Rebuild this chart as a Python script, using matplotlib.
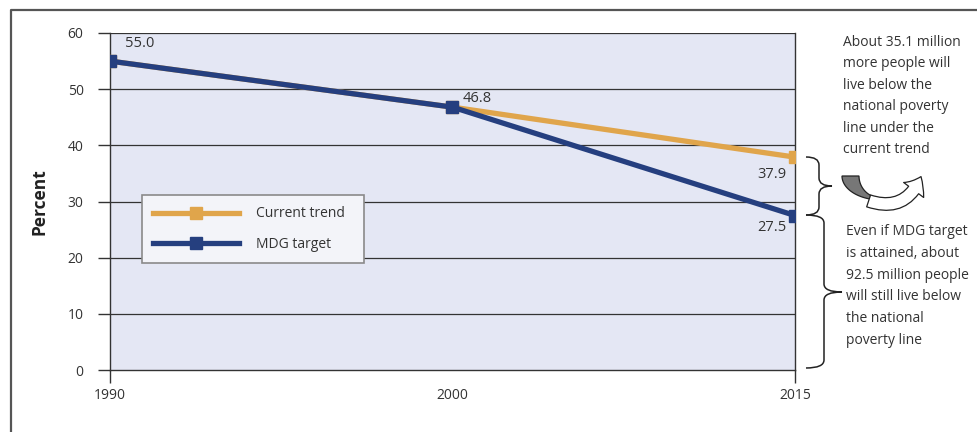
import numpy as np
import matplotlib.pyplot as plt
from matplotlib.path import Path
from matplotlib.patches import PathPatch, Polygon, FancyArrowPatch

plt.rcParams['font.family'] = ['Open Sans', 'DejaVu Sans']

# 数据
years = ['1990', '2000', '2015']
current_trend = [55.0, 46.8, 37.9]
mdg_target = [55.0, 46.8, 27.5]
yticks = [0, 10, 20, 30, 40, 50, 60]
note_top = 'About 35.1 million\nmore people will\nlive below the\nnational poverty\nline under the\ncurrent trend'
note_bottom = 'Even if MDG target\nis attained, about\n92.5 million people\nwill still live below\nthe national\npoverty line'

orange = '#E0A54B'
navy = '#253F7F'
dark = '#333333'

fig = plt.figure(figsize=(9.77, 4.32), dpi=100)
ax = fig.add_axes([110 / 977, 62 / 432, 685 / 977, 337 / 432])
ax.set_facecolor('#E4E7F4')

x = np.arange(len(years))
ax.plot(x, current_trend, color=orange, lw=3.8, marker='s', ms=8.5,
        label='Current trend', zorder=3)
ax.plot(x, mdg_target, color=navy, lw=3.8, marker='s', ms=8.5,
        label='MDG target', zorder=4)

ax.set_xlim(0, 2)
ax.set_ylim(0, 60)
ax.set_xticks(x)
ax.set_xticklabels(years, fontsize=10, color=dark)
ax.set_yticks(yticks)
ax.set_yticklabels([str(v) for v in yticks], fontsize=10, color=dark)
ax.tick_params(axis='y', length=9, width=1, color=dark, pad=10)
ax.tick_params(axis='x', length=9, width=1, color=dark, pad=4)
ax.xaxis.get_major_ticks()[1].tick1line.set_visible(False)
for v in yticks[1:]:
    ax.axhline(v, color=dark, lw=0.9, zorder=1)
for side in ['left', 'right', 'bottom']:
    ax.spines[side].set_color(dark)
    ax.spines[side].set_linewidth(1.0)
ax.spines['top'].set_visible(False)
ax.set_ylabel('Percent', fontsize=12.5, fontweight='bold', color='#222222', labelpad=14)

# 数值标签
ax.annotate(f'{mdg_target[0]:.1f}', (x[0], mdg_target[0]), xytext=(11, 7),
            textcoords='offset points', fontsize=10.5, color=dark, va='bottom')
ax.annotate(f'{mdg_target[1]:.1f}', (x[1], mdg_target[1]), xytext=(7, 1),
            textcoords='offset points', fontsize=10.5, color=dark, va='bottom')
ax.annotate(f'{current_trend[2]:.1f}', (x[2], current_trend[2]), xytext=(-6, -7),
            textcoords='offset points', fontsize=10.5, color=dark, va='top', ha='right')
ax.annotate(f'{mdg_target[2]:.1f}', (x[2], mdg_target[2]), xytext=(-6, -3),
            textcoords='offset points', fontsize=10.5, color=dark, va='top', ha='right')

leg = ax.legend(loc='lower left', bbox_to_anchor=(0.047, 0.318, 0.324, 0.2),
                mode='expand', borderaxespad=0, fontsize=10, handlelength=6.2,
                handletextpad=1.2, borderpad=0.8, labelspacing=1.1,
                fancybox=False, framealpha=1)
leg.get_frame().set_facecolor('#F3F4F9')
leg.get_frame().set_edgecolor('#8A8A8A')
leg.get_frame().set_linewidth(1.2)
for t in leg.get_texts():
    t.set_color(dark)

# 像素坐标的装饰层
ov = fig.add_axes([0, 0, 1, 1], facecolor='none')
ov.set_xlim(0, 977)
ov.set_ylim(432, 0)
ov.axis('off')

# 外框
ov.plot([11, 11, 977], [432, 10, 10], color='#555555', lw=1.6)


def brace(x0, y0, y1, w, ym=None):
    if ym is None:
        ym = (y0 + y1) / 2
    d = min(8, (y1 - y0) / 4)
    verts = [(x0, y0), (x0 + w, y0), (x0 + w, y0 + d),
             (x0 + w, ym - d),
             (x0 + w, ym), (x0 + 2 * w, ym),
             (x0 + w, ym), (x0 + w, ym + d),
             (x0 + w, y1 - d),
             (x0 + w, y1), (x0, y1)]
    codes = [Path.MOVETO, Path.CURVE3, Path.CURVE3, Path.LINETO,
             Path.CURVE3, Path.CURVE3, Path.CURVE3, Path.CURVE3,
             Path.LINETO, Path.CURVE3, Path.CURVE3]
    ov.add_patch(PathPatch(Path(verts, codes), fill=False, color='#222222', lw=1.1))


brace(806, 157, 215, 13, 186)
brace(806, 215, 368, 18, 292)

# 弯曲箭头图标
t = np.linspace(np.pi, np.pi / 2, 30)
outer = np.column_stack([881 + 39 * np.cos(t), 176 + 24 * np.sin(t)])
inner = np.column_stack([881 + 22 * np.cos(t[::-1]), 176 + 22 * np.sin(t[::-1])])
ov.add_patch(Polygon(np.vstack([outer, inner]), closed=True,
                     facecolor='#777777', edgecolor='#222222', lw=0.9))
ov.add_patch(FancyArrowPatch((866, 200), (922, 174), connectionstyle='arc3,rad=0.5',
                             arrowstyle='simple,head_width=18,tail_width=9,head_length=11',
                             facecolor='white', edgecolor='#222222', lw=0.9,
                             mutation_scale=1))

ov.text(843, 35, note_top, ha='left', va='top', fontsize=10, color=dark,
        linespacing=1.58)
ov.text(846, 224, note_bottom, ha='left', va='top', fontsize=10, color=dark,
        linespacing=1.62)

fig.savefig('out.png', dpi=100)
